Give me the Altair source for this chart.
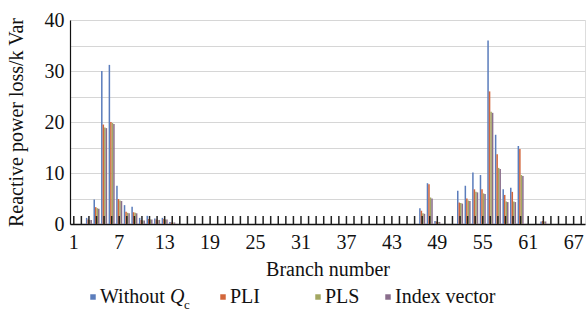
import altair as alt
import pandas as pd

# Branch numbers and per-method reactive power loss (kVar)
branches = list(range(1, 69))
series_names = ["Without Qc", "PLI", "PLS", "Index vector"]
series_colors = ["#5b7dbc", "#d2663b", "#a3a762", "#8a6e8c"]

without_qc = [0, 0, 1.2, 4.8, 30.0, 31.2, 7.5, 3.7, 3.4, 1.2,
              1.6, 1.1, 1.2, 0.4, 0, 0, 0, 0, 0, 0,
              0, 0, 0, 0, 0, 0, 0, 0, 0, 0,
              0, 0, 0, 0, 0, 0, 0, 0, 0, 0,
              0, 0, 0, 0, 0, 0, 3.1, 8.0, 0.6, 0,
              0, 6.5, 7.5, 10.1, 9.6, 36.0, 17.5, 6.8, 7.1, 15.3,
              0, 0, 0.5, 0, 0, 0, 0, 0]
pli = [0, 0, 0.9, 3.3, 19.5, 20.0, 4.9, 2.4, 2.3, 0.8,
       1.0, 0.9, 1.0, 0.3, 0, 0, 0, 0, 0, 0,
       0, 0, 0, 0, 0, 0, 0, 0, 0, 0,
       0, 0, 0, 0, 0, 0, 0, 0, 0, 0,
       0, 0, 0, 0, 0, 0, 2.6, 7.8, 0.5, 0,
       0, 4.2, 5.0, 6.8, 6.8, 26.0, 13.7, 5.7, 6.3, 14.7,
       0, 0, 0.6, 0, 0, 0, 0, 0]
pls = [0, 0, 0.8, 3.1, 18.9, 19.8, 4.6, 2.2, 2.2, 0.7,
       0.9, 0.8, 0.9, 0.3, 0, 0, 0, 0, 0, 0,
       0, 0, 0, 0, 0, 0, 0, 0, 0, 0,
       0, 0, 0, 0, 0, 0, 0, 0, 0, 0,
       0, 0, 0, 0, 0, 0, 2.1, 5.2, 0.4, 0,
       0, 4.1, 4.6, 6.3, 6.0, 22.0, 11.0, 4.4, 4.4, 9.6,
       0, 0, 0.5, 0, 0, 0, 0, 0]
index_vector = [0, 0, 0.8, 3.0, 18.8, 19.6, 4.5, 2.1, 2.1, 0.7,
                0.9, 0.8, 0.9, 0.3, 0, 0, 0, 0, 0, 0,
                0, 0, 0, 0, 0, 0, 0, 0, 0, 0,
                0, 0, 0, 0, 0, 0, 0, 0, 0, 0,
                0, 0, 0, 0, 0, 0, 2.0, 5.0, 0.4, 0,
                0, 4.0, 4.5, 6.2, 5.9, 21.8, 10.8, 4.3, 4.3, 9.4,
                0, 0, 0.5, 0, 0, 0, 0, 0]

x_label_values = [1, 7, 13, 19, 25, 31, 37, 43, 49, 55, 61, 67]
y_grid_values = [0, 5, 10, 15, 20, 25, 30, 35, 40]

FONT = "'Liberation Serif', 'Times New Roman', 'DejaVu Serif', serif"
FS = 20
W, H = 515, 204

rows = []
for name, vals in zip(series_names, [without_qc, pli, pls, index_vector]):
    for b, v in zip(branches, vals):
        rows.append({"branch": b, "series": name, "value": v})
df = pd.DataFrame(rows)
ticks_df = pd.DataFrame({"branch": branches})

x_enc = alt.X(
    "branch:O",
    scale=alt.Scale(paddingInner=0.2, paddingOuter=0.1),
    axis=alt.Axis(
        values=x_label_values, labelAngle=0, ticks=False,
        labelFont=FONT, labelFontSize=FS, labelColor="#111",
        labelPadding=8, domainColor="#111", domainWidth=1.5,
        title="Branch number", titleFont=FONT, titleFontSize=FS,
        titleFontWeight="normal", titleColor="#111", titlePadding=7,
        grid=False,
    ),
)

bars = alt.Chart(df).mark_bar().encode(
    x=x_enc,
    xOffset=alt.XOffset("series:N", sort=series_names),
    y=alt.Y(
        "value:Q",
        scale=alt.Scale(domain=[0, 40], nice=False),
        axis=alt.Axis(
            values=y_grid_values,
            labelExpr="datum.value % 10 == 0 ? datum.label : ''",
            ticks=False, labelFont=FONT, labelFontSize=FS,
            labelColor="#111", labelPadding=6,
            domainColor="#111", domainWidth=1.2,
            gridColor="#d6d6d6", gridWidth=1,
            title="Reactive power loss/k Var", titleFont=FONT,
            titleFontSize=FS, titleFontWeight="normal",
            titleColor="#111", titlePadding=18,
        ),
    ),
    color=alt.Color("series:N", sort=series_names,
                    scale=alt.Scale(domain=series_names, range=series_colors),
                    legend=None),
)

# Short upward category ticks along the baseline
cat_ticks = alt.Chart(ticks_df).mark_rule(color="#222", strokeWidth=1.5).encode(
    x=alt.X("branch:O"),
    y=alt.value(H),
    y2=alt.value(H - 8),
)

# Legend drawn by hand so the subscript in "Without Q_c" can be shown
legend_y = 277
sq_size = 30
one = pd.DataFrame({"k": [0]})
legend_layers = []
for sx, tx, label, color in [
    (23, 30, "Without", series_colors[0]),
    (153, 160, "PLI", series_colors[1]),
    (248, 255, "PLS", series_colors[2]),
    (318, 325, "Index vector", series_colors[3]),
]:
    legend_layers.append(
        alt.Chart(one).mark_square(size=sq_size, color=color, opacity=1).encode(
            x=alt.value(sx), y=alt.value(legend_y)))
    legend_layers.append(
        alt.Chart(one).mark_text(text=label, font=FONT, fontSize=FS, color="#111",
                                 align="left", baseline="middle").encode(
            x=alt.value(tx), y=alt.value(legend_y)))
legend_layers.append(
    alt.Chart(one).mark_text(text="Q", font=FONT, fontSize=FS, fontStyle="italic",
                             color="#111", align="left", baseline="middle").encode(
        x=alt.value(100), y=alt.value(legend_y)))
legend_layers.append(
    alt.Chart(one).mark_text(text="c", font=FONT, fontSize=13, color="#111",
                             align="left", baseline="middle").encode(
        x=alt.value(114), y=alt.value(legend_y + 8)))

chart = alt.layer(bars, cat_ticks, *legend_layers).properties(
    width=W, height=H,
    autosize=alt.AutoSizeParams(type="none"),
    padding={"left": 70, "top": 20, "right": 3, "bottom": 96},
).configure_view(
    stroke="#8c8c8c", strokeWidth=1,
).configure(background="white")

chart.save("out.html", embed_options={"renderer": "svg", "actions": False})
